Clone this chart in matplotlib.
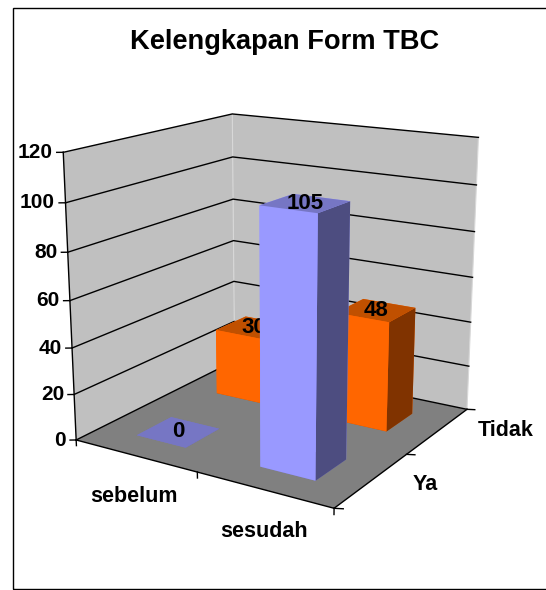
import numpy as np
import matplotlib
matplotlib.use("Agg")
import matplotlib.pyplot as plt
from mpl_toolkits.mplot3d.art3d import Poly3DCollection

plt.rcParams['font.family'] = ['Liberation Sans', 'DejaVu Sans']

categories = ["sebelum", "sesudah"]
series_names = ["Ya", "Tidak"]
ya_values = [0, 105]
tidak_values = [30, 48]
z_ticks = [0, 20, 40, 60, 80, 100, 120]

ya_faces = ["#7676C4", "#7676C4", "#9999FF", "#9999FF", "#9999FF", "#4D4D80"]
tidak_faces = ["#C05000", "#C05000", "#FF6600", "#FF6600", "#FF6600", "#803300"]

fig = plt.figure(figsize=(5.46, 5.9), dpi=100)
ax = fig.add_axes([-3 / 546, -1 / 590, 1.0, 1.0], projection='3d', computed_zorder=False)
ax.set_proj_type('persp', focal_length=0.45)
ax.view_init(elev=16, azim=-58)
ax.set_box_aspect((1.02, 0.98, 1.0), zoom=0.895)
ax.set_xlim(0, 2); ax.set_ylim(0, 2); ax.set_zlim(0, 120)
ax.set_axis_off()

# walls and floor
walls = [[(0, 0, 0), (0, 2, 0), (0, 2, 120), (0, 0, 120)],
         [(0, 2, 0), (2, 2, 0), (2, 2, 120), (0, 2, 120)]]
ax.add_collection3d(Poly3DCollection(walls, facecolors="#C0C0C0", edgecolors="none", zorder=1))
floor = [[(0, 0, 0), (2, 0, 0), (2, 2, 0), (0, 2, 0)]]
ax.add_collection3d(Poly3DCollection(floor, facecolors="#808080", edgecolors="none", zorder=2))

ax.plot([0, 0], [2, 2], [0, 120], color="#D8D8D8", lw=0.8, zorder=3)
ax.plot([2, 2], [2, 2], [0, 120], color="#D8D8D8", lw=0.8, zorder=3)
ax.plot([0, 0], [0, 0], [0, 120], color="black", lw=1, zorder=3)
for z in z_ticks:
    ax.plot([0, 0, 2], [0, 2, 2], [z, z, z], color="black", lw=1, zorder=3)
    ax.plot([-0.034, 0], [-0.024, 0], [z, z], color="black", lw=1, zorder=3)
    ax.text(-0.055, -0.04, z, str(z), ha='right', va='center', fontsize=15, fontweight='bold', zorder=10)
ax.plot([0, 2, 2], [0, 0, 2], [0, 0, 0], color="black", lw=1, zorder=3)
for x in [0, 1, 2]:
    ax.plot([x, x], [0, 0], [0, -2.5], color="black", lw=1, zorder=3)
for y in [0, 1, 2]:
    ax.plot([2, 2.05], [y, y + 0.024], [0, 0], color="black", lw=1, zorder=3)

# bars, back row first, labels of a row go under the row in front
w = 0.41
zo = 4
for row, vals, faces in [(1, tidak_values, tidak_faces), (0, ya_values, ya_faces)]:
    for i, v in enumerate(vals):
        ax.bar3d(i + 0.5 - w / 2, row + 0.5 - w / 2, 0, w, w, max(v, 0.01), color=faces, shade=False, zorder=zo)
        ax.text(i + 0.5, row + 0.5, v, str(v), ha='center', va='center', fontsize=16, fontweight='bold', zorder=zo + 0.5)
        zo += 1

ax.text(0.88, -0.52, 0, categories[0], ha='center', va='center', fontsize=15.5, fontweight='bold', zorder=10)
ax.text(1.81, -0.5, 0, categories[1], ha='center', va='center', fontsize=15.5, fontweight='bold', zorder=10)
ax.text(2.31, 0.62, 0, series_names[0], ha='center', va='center', fontsize=15.5, fontweight='bold', zorder=10)
ax.text(2.39, 1.76, 0, series_names[1], ha='center', va='center', fontsize=15.5, fontweight='bold', zorder=10)

fig.text(285 / 546, 1 - 42 / 590, "Kelengkapan Form TBC", ha='center', va='center', fontsize=19.6, fontweight='bold')
fig.add_artist(plt.Rectangle((13 / 546, 1 / 590), 540 / 546, 581 / 590, fill=False, ec="black", lw=1,
                             transform=fig.transFigure))

fig.savefig("out.png", dpi=100)
